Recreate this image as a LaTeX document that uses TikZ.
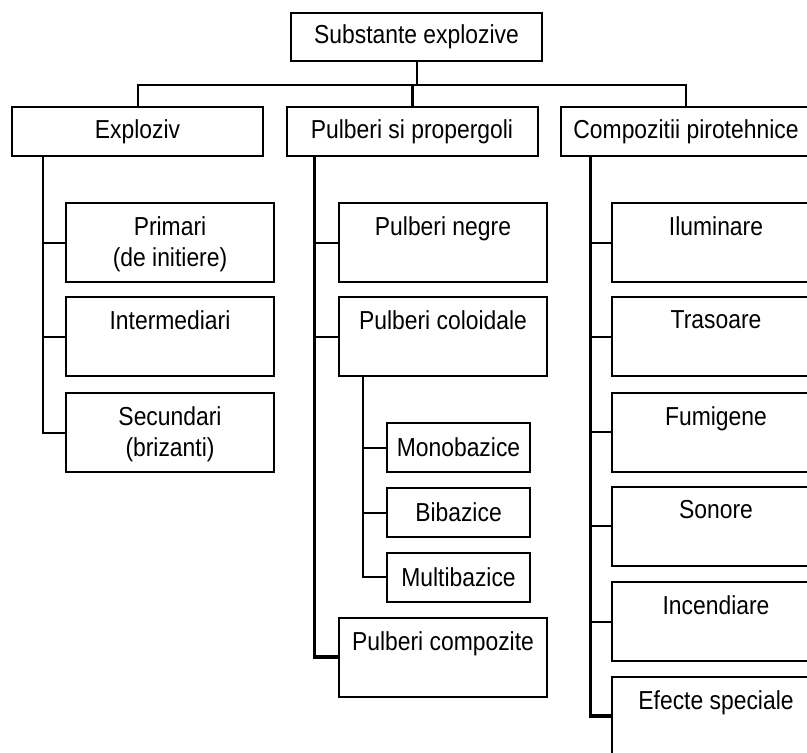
\documentclass[tikz,border=0pt]{standalone}
\usepackage{fontspec}
\setmainfont{Liberation Sans}[FakeStretch=0.88]

\tikzset{
  cat/.style={draw, line width=1pt, minimum width=125.5pt, minimum height=24.5pt, inner sep=0pt},
  kind/.style={draw, line width=1pt, minimum width=104pt, minimum height=39.5pt, inner sep=0pt},
  small/.style={draw, line width=1pt, minimum width=71.5pt, minimum height=24.5pt, inner sep=0pt},
  txt/.style={label={[anchor=north, yshift=-7pt, inner sep=0pt, align=center]north:{#1}}},
  trunk/.style={line width=1.75pt}
}

\begin{document}
\begin{tikzpicture}[x=0.5pt, y=-0.5pt, line width=1pt, font=\fontsize{13}{15.5}\selectfont]
\clip (0,0) rectangle (807,752);

\node[cat, minimum height=24pt] (top) at (416.5,37) {Substante explozive};
\node[cat] (expl) at (137.5,131.5) {Exploziv};
\node[cat] (pulb) at (412,131.5) {Pulberi si propergoli};
\node[cat] (comp) at (686,131.5) {Compozitii pirotehnice};

% first level
\draw (top.south) -- ++(0,23) coordinate (bus);
\draw (expl.north) |- (bus) -| (comp.north);
\draw[line width=1.5pt] (pulb.north) -- (pulb.north |- bus);

% exploziv
\foreach \n/\y/\lab in {prim/242.5/{Primari\\(de initiere)}, inter/336.5/Intermediari, secund/432.5/{Secundari\\(brizanti)}} {
  \node[kind, txt={\lab}] (\n) at (170,\y) {};
  \draw ([xshift=16pt]expl.south west) |- (\n.west);
}

% pulberi
\foreach \n/\y/\lab in {negre/242.5/Pulberi negre, colo/336.5/Pulberi coloidale, compoz/657/Pulberi compozite} {
  \node[kind, txt={\lab}] (\n) at (443,\y) {};
  \draw ([xshift=14.5pt]pulb.south west) |- (\n.west);
}
\draw[trunk] ([xshift=14.5pt]pulb.south west) |- (compoz.west);

\foreach \n/\y/\lab in {mono/447.5/Monobazice, bi/512.5/Bibazice, multi/577/Multibazice} {
  \node[small] (\n) at (458.5,\y) {\lab};
  \draw ([xshift=12.5pt]colo.south west) |- (\n.west);
}

% compozitii
\foreach \n/\y/\lab in {ilum/242.5/Iluminare, tras/336.5/Trasoare, fum/432/Fumigene, son/526/Sonore, inc/621.5/Incendiare, efect/716/Efecte speciale} {
  \node[kind, txt={\lab}] (\n) at (716,\y) {};
  \draw ([xshift=15.5pt]comp.south west) |- (\n.west);
}
\draw[trunk] ([xshift=15.5pt]comp.south west) |- (efect.west);

\end{tikzpicture}
\end{document}
